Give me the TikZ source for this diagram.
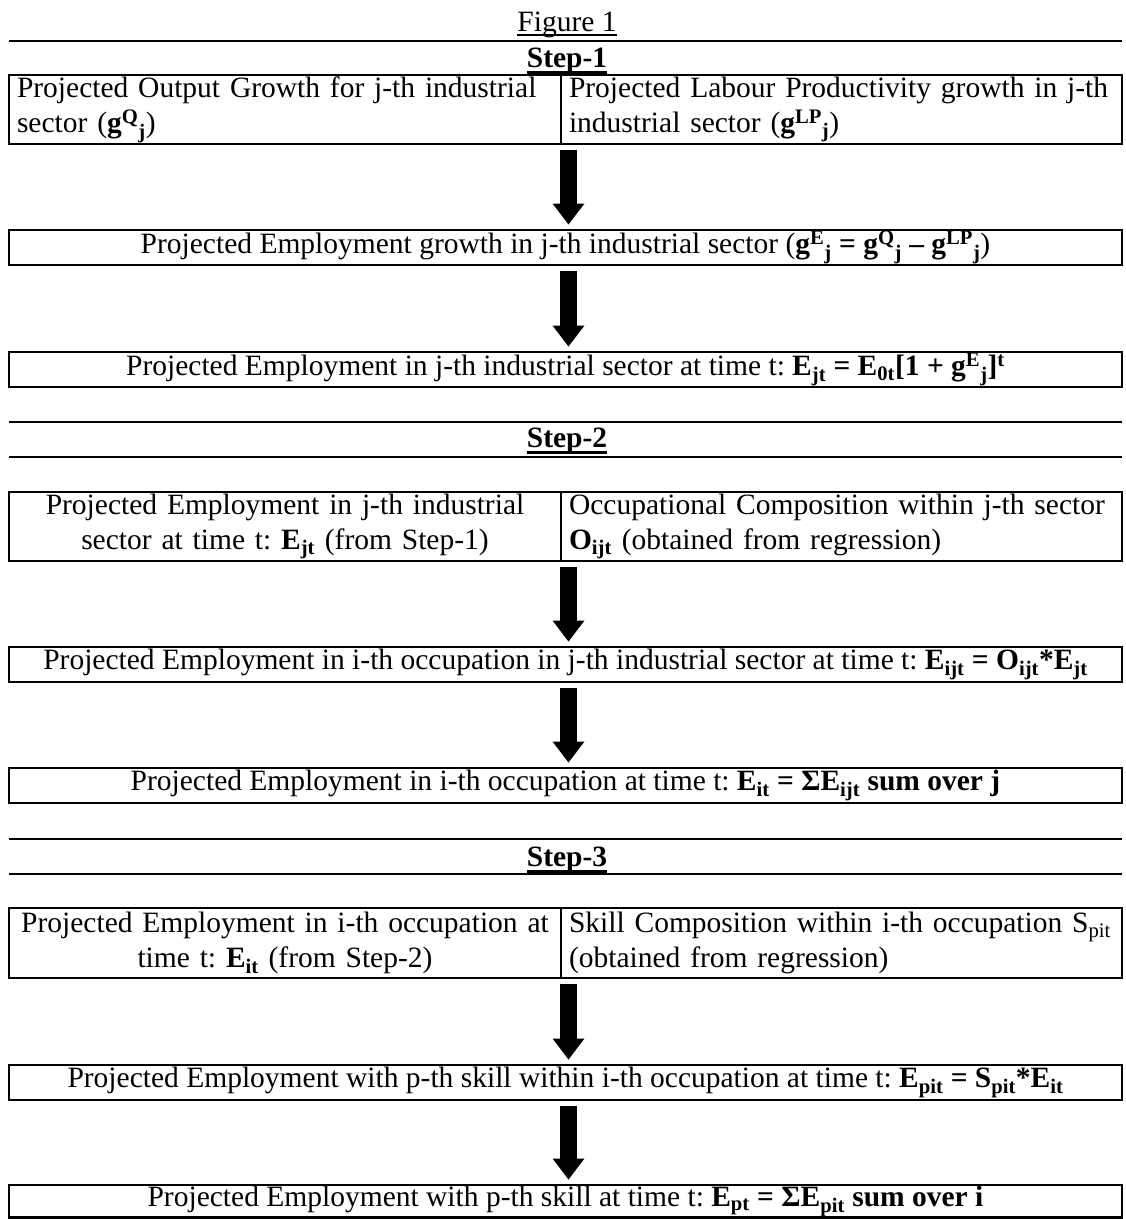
\documentclass[tikz,border=0pt]{standalone}
\usepackage{fontspec}
\setmainfont{Liberation Serif}
\usetikzlibrary{arrows.meta}
\frenchspacing
% #1 rule thickness, #2 offset below baseline, #3 text
\newcommand\ulx[3]{\setbox0=\hbox{#3}\leavevmode\rlap{\rule[\dimexpr-#2-#1\relax]{\wd0}{#1}}\box0}
\newcommand\supb[1]{\textsuperscript{#1}}
\newcommand\subb[1]{\textsubscript{#1}}
\begin{document}
\begin{tikzpicture}[x=1pt,y=-1pt,
  every node/.style={font=\fontsize{29.5}{35}\selectfont\frenchspacing, inner sep=0pt, outer sep=0pt},
  box/.style={draw, line width=2.5pt, minimum height=35pt, minimum width=1113pt, align=center},
  cellL/.style={draw, line width=2.5pt, minimum height=69pt, minimum width=552pt, text width=536pt},
  cellR/.style={draw, line width=2.5pt, minimum height=69pt, minimum width=561pt, text width=545pt, align=left},
  steplabel/.style={anchor=base},
  rulel/.style={line width=2.5pt},
  bigarrow/.style={line width=17pt, -{Triangle[width=32pt,length=21pt,line width=0pt]}}]

\useasboundingbox (0,0) rectangle (1126,1219);

% Title and Step-1
\node[steplabel] (fig) at (567,31.5) {\ulx{1.6pt}{2.6pt}{Figure 1}};
\draw[rulel] (9,41) -- (1122,41);
\node[steplabel] (s1) at (567,67) {\ulx{3pt}{3.8pt}{\textbf{Step-1}}};

\node[cellL, align=left] (b1l) at (285,109.5) {Projected Output Growth for j-th industrial\\ sector (\textbf{g\supb{Q}\subb{j}})};
\node[cellR] (b1r) at (841.5,109.5) {Projected Labour Productivity growth in j-th\\ industrial sector (\textbf{g\supb{LP}\subb{j}})};

\node[box] (b2) at (565.5,247.5) {Projected Employment growth in j-th industrial sector (\textbf{g\supb{E}\subb{j} = g\supb{Q}\subb{j} – g\supb{LP}\subb{j}})};

\node[box] (b3) at (565.5,369.5) {Projected Employment in j-th industrial sector at time t: \textbf{E\subb{jt} = E\subb{0t}[1 + g\supb{E}\subb{j}]\supb{t}}};

% Step-2
\draw[rulel] (9,422) -- (1122,422);
\node[steplabel] (s2) at (567,447.5) {\ulx{3pt}{3.8pt}{\textbf{Step-2}}};
\draw[rulel] (9,457) -- (1122,457);

\node[cellL, align=center] (b4l) at (285,526.5) {Projected Employment in j-th industrial\\ sector at time t: \textbf{E\subb{jt}} (from Step-1)};
\node[cellR] (b4r) at (841.5,526.5) {Occupational Composition within j-th sector\\ \textbf{O\subb{ijt}} (obtained from regression)};

\node[box] (b5) at (565.5,664.5) {Projected Employment in i-th occupation in j-th industrial sector at time t: \textbf{E\subb{ijt} = O\subb{ijt}*E\subb{jt}}};

\node[box] (b6) at (565.5,785.5) {Projected Employment in i-th occupation at time t: \textbf{E\subb{it} = ΣE\subb{ijt} sum over j}};

% Step-3
\draw[rulel] (9,839) -- (1122,839);
\node[steplabel] (s3) at (567,866) {\ulx{3pt}{3.8pt}{\textbf{Step-3}}};
\draw[rulel] (9,874) -- (1122,874);

\node[cellL, align=center, minimum height=70pt] (b7l) at (285,943) {Projected Employment in i-th occupation at\\ time t: \textbf{E\subb{it}} (from Step-2)};
\node[cellR, minimum height=70pt] (b7r) at (841.5,943) {Skill Composition within i-th occupation S\subb{pit}\\ (obtained from regression)};

\node[box] (b8) at (565.5,1082.5) {Projected Employment with p-th skill within i-th occupation at time t: \textbf{E\subb{pit} = S\subb{pit}*E\subb{it}}};

\node[box, minimum height=32.5pt] (b9) at (565.5,1201.25) {Projected Employment with p-th skill at time t: \textbf{E\subb{pt} = ΣE\subb{pit} sum over i}};

% Arrows
\draw[bigarrow] ([xshift=7.5pt,yshift=-5.5pt]b1l.south east) -- ([xshift=3pt,yshift=5.5pt]b2.north);
\draw[bigarrow] ([xshift=3pt,yshift=-5.5pt]b2.south) -- ([xshift=3pt,yshift=5.5pt]b3.north);
\draw[bigarrow] ([xshift=7.5pt,yshift=-5.5pt]b4l.south east) -- ([xshift=3pt,yshift=5.5pt]b5.north);
\draw[bigarrow] ([xshift=3pt,yshift=-5.5pt]b5.south) -- ([xshift=3pt,yshift=5.5pt]b6.north);
\draw[bigarrow] ([xshift=7.5pt,yshift=-5.5pt]b7l.south east) -- ([xshift=3pt,yshift=5.5pt]b8.north);
\draw[bigarrow] ([xshift=3pt,yshift=-5.5pt]b8.south) -- ([xshift=3pt,yshift=5.5pt]b9.north);
\end{tikzpicture}
\end{document}
